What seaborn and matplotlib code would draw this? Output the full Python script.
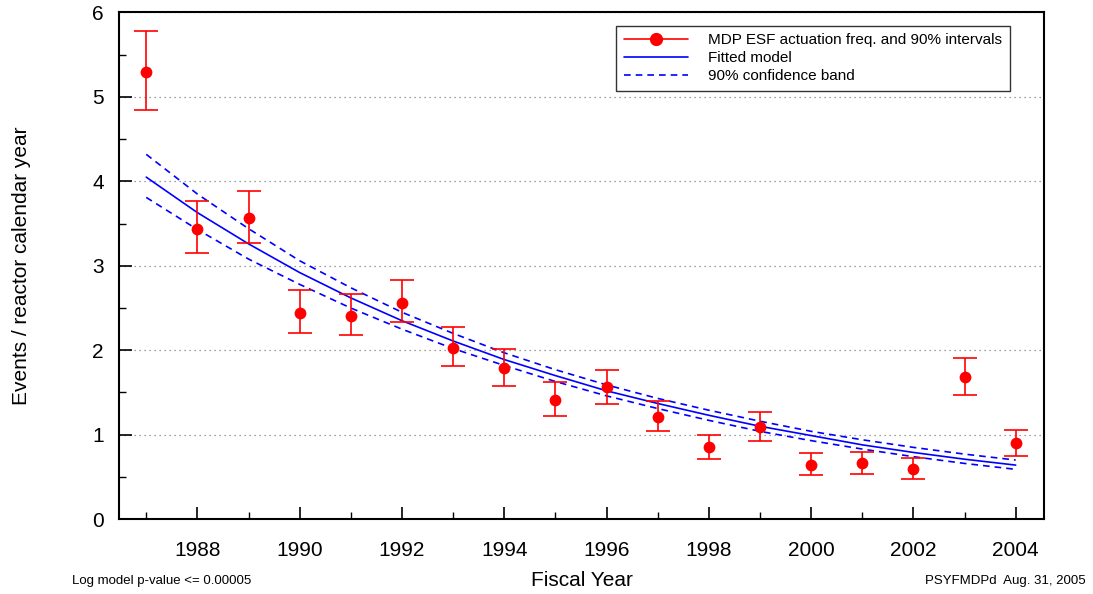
import matplotlib
matplotlib.use("Agg")
import matplotlib.pyplot as plt
from matplotlib.lines import Line2D
from matplotlib.ticker import MultipleLocator
import seaborn as sns
import numpy as np
import pandas as pd

# observed frequencies and 90% intervals
years = [1987, 1988, 1989, 1990, 1991, 1992, 1993, 1994, 1995,
         1996, 1997, 1998, 1999, 2000, 2001, 2002, 2003, 2004]
freq = [5.30, 3.44, 3.57, 2.44, 2.41, 2.56, 2.03, 1.79, 1.41,
        1.56, 1.21, 0.85, 1.09, 0.64, 0.66, 0.59, 1.68, 0.90]
lo = [4.85, 3.15, 3.27, 2.20, 2.18, 2.33, 1.81, 1.58, 1.22,
      1.36, 1.04, 0.71, 0.93, 0.52, 0.53, 0.47, 1.47, 0.75]
hi = [5.78, 3.77, 3.89, 2.71, 2.67, 2.83, 2.27, 2.02, 1.62,
      1.77, 1.40, 1.00, 1.27, 0.78, 0.80, 0.72, 1.91, 1.06]

# fitted model and confidence band
fit = [4.05, 3.63, 3.26, 2.92, 2.62, 2.35, 2.11, 1.89, 1.70,
       1.52, 1.37, 1.23, 1.10, 0.99, 0.88, 0.79, 0.71, 0.64]
band_hi = [4.32, 3.85, 3.44, 3.06, 2.74, 2.45, 2.20, 1.97, 1.77,
           1.59, 1.43, 1.29, 1.16, 1.04, 0.94, 0.85, 0.77, 0.70]
band_lo = [3.81, 3.43, 3.08, 2.78, 2.50, 2.25, 2.02, 1.82, 1.63,
           1.46, 1.31, 1.17, 1.04, 0.93, 0.83, 0.74, 0.66, 0.59]

df = pd.DataFrame({"year": years, "freq": freq, "lo": lo, "hi": hi,
                   "fit": fit, "band_hi": band_hi, "band_lo": band_lo})

sns.set_style("white")
plt.rcParams['font.family'] = ['Liberation Sans', 'DejaVu Sans']
plt.rcParams['text.color'] = 'black'
plt.rcParams['axes.labelcolor'] = 'black'
plt.rcParams['xtick.color'] = 'black'
plt.rcParams['ytick.color'] = 'black'

fig = plt.figure(figsize=(10.93, 5.94), dpi=100)
ax = fig.add_axes([0.109, 0.126, 0.846, 0.853])

sns.lineplot(data=df, x="year", y="fit", ax=ax, color="blue", lw=1.2)
sns.lineplot(data=df, x="year", y="band_hi", ax=ax, color="blue", lw=1.2,
             linestyle=(0, (4, 3)))
sns.lineplot(data=df, x="year", y="band_lo", ax=ax, color="blue", lw=1.2,
             linestyle=(0, (4, 3)))

yerr = np.array([df["freq"] - df["lo"], df["hi"] - df["freq"]])
ax.errorbar(df["year"], df["freq"], yerr=yerr, fmt="none", ecolor="red",
            elinewidth=1.2, capsize=8.5, capthick=1.2, zorder=3)
sns.scatterplot(data=df, x="year", y="freq", ax=ax, color="red", s=72,
                edgecolor="red", linewidth=0, zorder=4)

ax.set_xlim(1986.47, 2004.55)
ax.set_ylim(0, 6)
ax.xaxis.set_major_locator(MultipleLocator(2))
ax.xaxis.set_minor_locator(MultipleLocator(1))
ax.yaxis.set_major_locator(MultipleLocator(1))
ax.yaxis.set_minor_locator(MultipleLocator(0.5))
ax.set_xticks(range(1988, 2005, 2))
ax.tick_params(which="both", bottom=True, left=True, top=False, right=False)
ax.tick_params(which="major", direction="in", length=9, width=1.2,
               labelsize=15)
ax.tick_params(which="minor", direction="in", length=5, width=1.0)
ax.tick_params(axis="x", which="major", pad=16)
ax.tick_params(axis="y", which="major", pad=11)
ax.grid(axis="y", which="major", color="gray", linestyle=(0, (1, 3)), lw=0.9)

for s in ax.spines.values():
    s.set_visible(True)
    s.set_color("black")
    s.set_linewidth(1.5)

ax.set_xlabel("Fiscal Year", fontsize=15, labelpad=8)
ax.set_ylabel("Events / reactor calendar year", fontsize=15, labelpad=44)

handles = [
    Line2D([], [], color="red", marker="o", markersize=8.5, lw=1.2),
    Line2D([], [], color="blue", lw=1.2),
    Line2D([], [], color="blue", lw=1.2, linestyle=(0, (4, 3))),
]
labels = ["MDP ESF actuation freq. and 90% intervals", "Fitted model",
          "90% confidence band"]
leg = ax.legend(handles, labels, loc="upper right", fontsize=11,
                bbox_to_anchor=(0.963, 0.974), borderaxespad=0,
                frameon=True, fancybox=False, edgecolor="black",
                handlelength=4.2, handletextpad=1.3,
                labelspacing=0.25, borderpad=0.5)
leg.get_frame().set_linewidth(1.0)

fig.text(0.066, 0.016, "Log model p-value <= 0.00005", fontsize=9.5)
fig.text(0.993, 0.016, "PSYFMDPd  Aug. 31, 2005", fontsize=9.5, ha="right")

fig.savefig("out.png", dpi=100)
